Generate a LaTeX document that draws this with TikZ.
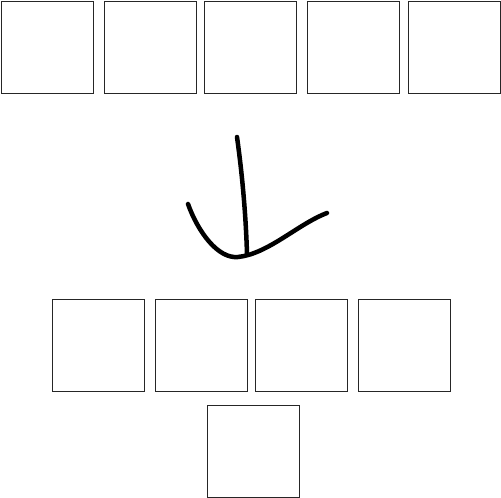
\documentclass[tikz,border=0pt]{standalone}
\begin{document}
\begin{tikzpicture}[x=1pt,y=-1pt,
  cell/.style={draw=black!85,line width=0.9pt,minimum width=92pt,minimum height=92pt,inner sep=0pt,outer sep=0pt,anchor=north west},
  stroke/.style={line width=4.5pt,line cap=round,line join=round}]
\useasboundingbox[fill=white] (0,0) rectangle (501,498);
% top row
\node[cell] (t1) at (1,1) {};
\node[cell] (t2) at (104,1.5) {};
\node[cell] (t3) at (204,1) {};
\node[cell] (t4) at (307,1) {};
\node[cell] (t5) at (408,1) {};
% bottom row
\node[cell] (b1) at (52,299) {};
\node[cell] (b2) at (155,299) {};
\node[cell] (b3) at (255,299) {};
\node[cell] (b4) at (358,299) {};
\node[cell] (b5) at (207,405) {};
% hand-drawn arrow
\coordinate (s0) at (237,137);
\coordinate (s1) at (247,254);
\coordinate (c0) at (188,204);
\coordinate (c1) at (238,257);
\coordinate (c2) at (327,213);
\draw[stroke] (s0) .. controls (243,180) and (246,220) .. (s1);
\draw[stroke] (c0) .. controls (198,232) and (218,259) .. (c1)
  .. controls (268,254) and (298,224) .. (c2);
\end{tikzpicture}
\end{document}
